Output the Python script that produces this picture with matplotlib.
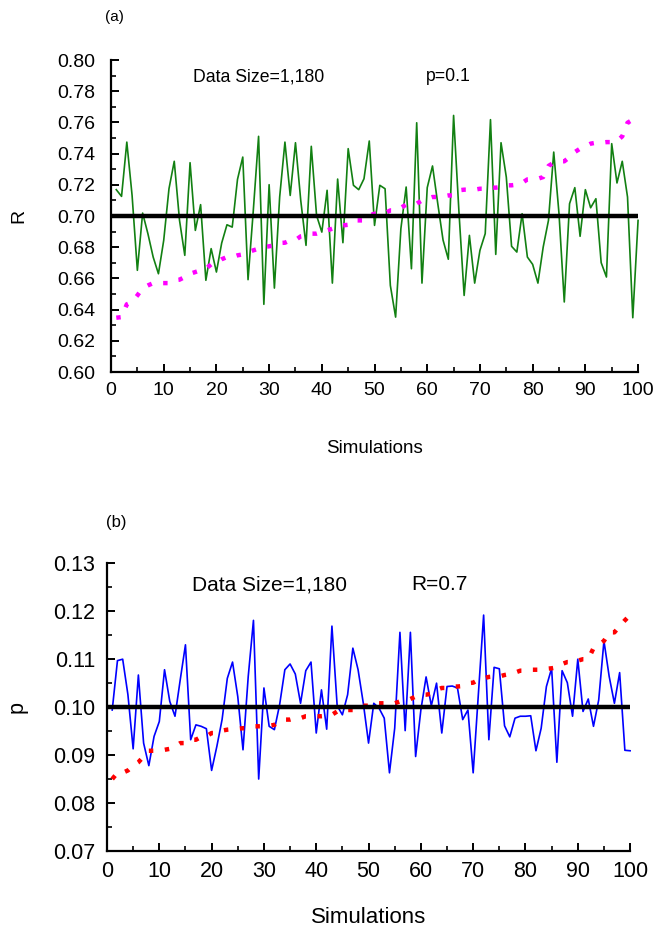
import numpy as np
import matplotlib
matplotlib.use('agg')
import matplotlib.pyplot as plt
from matplotlib.ticker import MultipleLocator, FormatStrFormatter

plt.rcParams['font.family'] = ['Liberation Sans', 'DejaVu Sans']

# simulated R values, data size 1,180, p=0.1
r_values = [
    0.7169, 0.7126, 0.7474, 0.7132, 0.6652, 0.7019, 0.6887, 0.6737, 0.6630, 0.6844,
    0.7175, 0.7351, 0.6972, 0.6748, 0.7342, 0.6908, 0.7073, 0.6588, 0.6791, 0.6641,
    0.6827, 0.6944, 0.6929, 0.7235, 0.7378, 0.6592, 0.7036, 0.7511, 0.6434, 0.7201,
    0.6538, 0.7122, 0.7474, 0.7132, 0.7470, 0.7100, 0.6812, 0.7447, 0.7004, 0.6897,
    0.7165, 0.6570, 0.7237, 0.6829, 0.7432, 0.7197, 0.7169, 0.7239, 0.7481, 0.6940,
    0.7197, 0.7175, 0.6555, 0.6352, 0.6919, 0.7186, 0.6662, 0.7598, 0.6570, 0.7182,
    0.7321, 0.7079, 0.6846, 0.6723, 0.7645, 0.7036, 0.6491, 0.6876, 0.6570, 0.6780,
    0.6887, 0.7618, 0.6754, 0.7470, 0.7250, 0.6806, 0.6769, 0.7015, 0.6737, 0.6690,
    0.6570, 0.6801, 0.6972, 0.7410, 0.7015, 0.6449, 0.7079, 0.7182, 0.6870, 0.7169,
    0.7053, 0.7111, 0.6701, 0.6609, 0.7464, 0.7212, 0.7351, 0.7122, 0.6348, 0.6972,
]

# simulated p values, data size 1,180, R=0.7
p_values = [
    0.0994, 0.1097, 0.1100, 0.1026, 0.0913, 0.1067, 0.0925, 0.0878, 0.0939, 0.0970,
    0.1078, 0.1012, 0.0981, 0.1057, 0.1130, 0.0932, 0.0963, 0.0960, 0.0955, 0.0868,
    0.0918, 0.0974, 0.1060, 0.1094, 0.1022, 0.0911, 0.1064, 0.1181, 0.0850, 0.1040,
    0.0960, 0.0953, 0.1005, 0.1078, 0.1090, 0.1069, 0.1008, 0.1076, 0.1094, 0.0946,
    0.1036, 0.0954, 0.1169, 0.1003, 0.0984, 0.1026, 0.1123, 0.1078, 0.1008, 0.0925,
    0.1008, 0.0998, 0.0977, 0.0863, 0.0956, 0.1156, 0.0951, 0.1156, 0.0897, 0.0994,
    0.1063, 0.1003, 0.1050, 0.0946, 0.1043, 0.1044, 0.1040, 0.0974, 0.0994, 0.0863,
    0.1028, 0.1192, 0.0932, 0.1083, 0.1080, 0.0961, 0.0938, 0.0977, 0.0981, 0.0981,
    0.0982, 0.0909, 0.0956, 0.1043, 0.1081, 0.0885, 0.1076, 0.1051, 0.0981, 0.1100,
    0.0991, 0.1017, 0.0960, 0.1015, 0.1138, 0.1064, 0.1008, 0.1072, 0.0910, 0.0909,
]

sims = np.arange(1, len(r_values) + 1)
r_true = 0.7
p_true = 0.1

fig = plt.figure(figsize=(6.58, 9.34), dpi=100)
ax1 = fig.add_axes([0.1687, 0.6017, 0.801, 0.334])
ax2 = fig.add_axes([0.1626, 0.0889, 0.795, 0.308])


def style_axis(ax, ymin, ymax, ymajor, yminor, fs, ypad):
    ax.set_xlim(0, 100)
    ax.set_ylim(ymin, ymax)
    for side in ('top', 'right'):
        ax.spines[side].set_visible(False)
    for side in ('left', 'bottom'):
        ax.spines[side].set_linewidth(1.6)
    ax.xaxis.set_major_locator(MultipleLocator(10))
    ax.xaxis.set_minor_locator(MultipleLocator(5))
    ax.yaxis.set_major_locator(MultipleLocator(ymajor))
    ax.yaxis.set_minor_locator(MultipleLocator(yminor))
    ax.yaxis.set_major_formatter(FormatStrFormatter('%.2f'))
    ax.tick_params(which='major', direction='in', length=6, width=1.4, labelsize=fs)
    ax.tick_params(which='minor', direction='in', length=3.5, width=1.2)
    ax.tick_params(axis='y', which='major', pad=ypad)
    ax.tick_params(axis='x', which='major', pad=7)


ax1.plot(sims, r_values, color='#128012', lw=1.2, clip_on=False, zorder=3)
ax1.plot(sims, np.sort(r_values), color='#ff00ff', lw=3.2, dashes=(1, 2.6),
         clip_on=False, zorder=4)
ax1.plot([0, 100], [r_true, r_true], color='black', lw=3.2, zorder=5)
style_axis(ax1, 0.60, 0.80, 0.02, 0.01, 14, 11.5)
ax1.set_xlabel('Simulations', fontsize=13.5, labelpad=30)
ax1.set_ylabel('R', fontsize=14, labelpad=21)
ax1.text(0.28, 0.947, 'Data Size=1,180', transform=ax1.transAxes, ha='center',
         va='center', fontsize=12.7)
ax1.text(0.64, 0.947, 'p=0.1', transform=ax1.transAxes, ha='center',
         va='center', fontsize=12.7)

ax2.plot(sims, p_values, color='#0000ff', lw=1.2, clip_on=False, zorder=3)
ax2.plot(sims, np.sort(p_values), color='#ff0000', lw=3.2, dashes=(1, 2.6),
         clip_on=False, zorder=4)
ax2.plot([0, 100], [p_true, p_true], color='black', lw=3.2, zorder=5)
style_axis(ax2, 0.07, 0.13, 0.01, 0.005, 15.5, 8.5)
ax2.set_xlabel('Simulations', fontsize=16, labelpad=18)
ax2.set_ylabel('p', fontsize=15.5, labelpad=18)
ax2.text(0.31, 0.925, 'Data Size=1,180', transform=ax2.transAxes, ha='center',
         va='center', fontsize=15)
ax2.text(0.635, 0.925, 'R=0.7', transform=ax2.transAxes, ha='center',
         va='center', fontsize=15)

fig.text(114 / 658, 1 - 17 / 934, '(a)', ha='center', va='center', fontsize=11)
fig.text(116 / 658, 1 - 523 / 934, '(b)', ha='center', va='center', fontsize=12)

fig.savefig('out.png', dpi=100)
plt.close(fig)
